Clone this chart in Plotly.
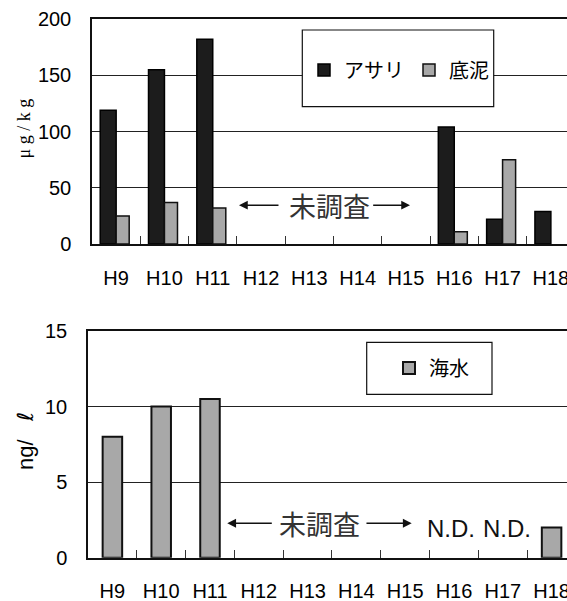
import plotly.graph_objects as go

# ---- data -------------------------------------------------------------
years = ["H9", "H10", "H11", "H12", "H13", "H14", "H15", "H16", "H17", "H18"]
asari = [119, 155, 182, None, None, None, None, 104, 22, 29]      # μg/kg
teidei = [25, 37, 32, None, None, None, None, 11, 75, None]       # μg/kg
kaisui = [8.0, 10.0, 10.5, None, None, None, None, None, None, 2.0]  # ng/ℓ
nd_years = ["H16", "H17"]
y1_ticks = [0, 50, 100, 150, 200]
y2_ticks = [0, 5, 10, 15]

W, H = 567, 601


def fx(p):
    return p / W


def fy(p):
    return 1 - p / H


LATIN = "Liberation Sans, Arial, sans-serif"
CJK = "Noto Sans CJK JP, sans-serif"
DARK = "#1c1c1c"
GREY = "#a8a8a8"

fig = go.Figure()

fig.add_trace(go.Bar(
    x=years, y=asari, name="アサリ", xaxis="x", yaxis="y", legend="legend",
    offset=-0.33, width=0.33,
    marker=dict(color=DARK, line=dict(color="#000000", width=1.5)),
))
fig.add_trace(go.Bar(
    x=years, y=teidei, name="底泥", xaxis="x", yaxis="y", legend="legend",
    offset=0.0, width=0.27,
    marker=dict(color=GREY, line=dict(color="#111111", width=1.5)),
))
fig.add_trace(go.Bar(
    x=years, y=kaisui, name="海水", xaxis="x2", yaxis="y2", legend="legend2",
    width=0.4,
    marker=dict(color=GREY, line=dict(color="#111111", width=2)),
))

xcommon = dict(
    type="category", categoryorder="array", categoryarray=years,
    showline=True, linecolor="#111111", linewidth=1.5, mirror=True,
    ticks="inside", tickson="boundaries", ticklen=8, tickcolor="#333333",
    tickwidth=1, showgrid=False, zeroline=False, automargin=False,
    tickfont=dict(family=LATIN, size=20, color="#000000"),
    ticklabelstandoff=15,
)
ycommon = dict(
    showline=True, linecolor="#111111", linewidth=1.5, mirror=False,
    ticks="", showgrid=True, gridcolor="#222222", gridwidth=1,
    zeroline=False, automargin=False,
    tickfont=dict(family=LATIN, size=20, color="#000000"),
    ticklabelstandoff=15,
)

legend_style = dict(
    orientation="h", xanchor="left", yanchor="middle",
    bgcolor="rgba(0,0,0,0)", borderwidth=0,
    font=dict(family=CJK, size=20, color="#000000"),
)

fig.update_layout(
    width=W, height=H,
    margin=dict(l=0, r=0, t=0, b=0),
    paper_bgcolor="white", plot_bgcolor="white",
    barmode="overlay",
    xaxis=dict(xcommon, domain=[fx(92), 1], anchor="y", range=[-0.5, 9.334]),
    yaxis=dict(ycommon, domain=[fy(244), fy(19)], anchor="x",
               range=[0, 200], tickvals=y1_ticks),
    xaxis2=dict(xcommon, domain=[fx(88), 1], anchor="y2", range=[-0.5, 9.316]),
    yaxis2=dict(ycommon, domain=[fy(557.7), fy(331)], anchor="x2",
                range=[0, 15], tickvals=y2_ticks),
    legend=dict(legend_style, x=fx(304), y=fy(70)),
    legend2=dict(legend_style, x=fx(389), y=fy(368)),
    showlegend=True,
)

# legend frames
for x0, x1, y0, y1 in [(302.3, 493.7, 30, 106.7), (366.7, 492, 342.3, 394.3)]:
    fig.add_shape(type="rect", xref="paper", yref="paper",
                  x0=fx(x0), x1=fx(x1), y0=fy(y1), y1=fy(y0),
                  line=dict(color="#111111", width=1.2), fillcolor="white",
                  layer="above")

# axis titles
fig.add_annotation(text="μ g / k g", xref="paper", yref="paper",
                   x=fx(23), y=fy(128.5), xanchor="center", yanchor="middle",
                   textangle=-90, showarrow=False,
                   font=dict(family="Liberation Serif, serif", size=18,
                             color="#000000"))
fig.add_annotation(
    text="ng/\u00a0\u00a0\u00a0<span style='font-family:DejaVu Sans'>ℓ</span>",
    xref="paper", yref="paper",
    x=fx(25.5), y=fy(441.5), xanchor="center", yanchor="middle",
    textangle=-90, showarrow=False,
    font=dict(family=LATIN, size=22, color="#000000"))


def not_surveyed(xa, ya, left_tip, left_tail, mid, right_tail, right_tip, yv):
    arrow = dict(showarrow=True, arrowhead=2, arrowsize=1.1, arrowwidth=1.6,
                 arrowcolor="#111111", text="", xref=xa, yref=ya,
                 axref=xa, ayref=ya)
    fig.add_annotation(arrow, x=left_tip, y=yv, ax=left_tail, ay=yv)
    fig.add_annotation(arrow, x=right_tip, y=yv, ax=right_tail, ay=yv)
    fig.add_annotation(text="未調査", x=mid, y=yv, xref=xa, yref=ya,
                       showarrow=False,
                       font=dict(family=CJK, size=27, color="#333333"))


not_surveyed("x", "y", 2.543, 3.392, 4.409, 5.29, 6.084, 34.5)
not_surveyed("x2", "y2", 2.354, 3.297, 4.238, 5.176, 6.133, 2.28)

for yr, shift in zip(nd_years, [-3, 4]):
    fig.add_annotation(text="N.D.", x=yr, y=1.9, xref="x2", yref="y2",
                       xshift=shift, showarrow=False,
                       font=dict(family=LATIN, size=24, color="#111111"))

fig.write_html("out.html")
